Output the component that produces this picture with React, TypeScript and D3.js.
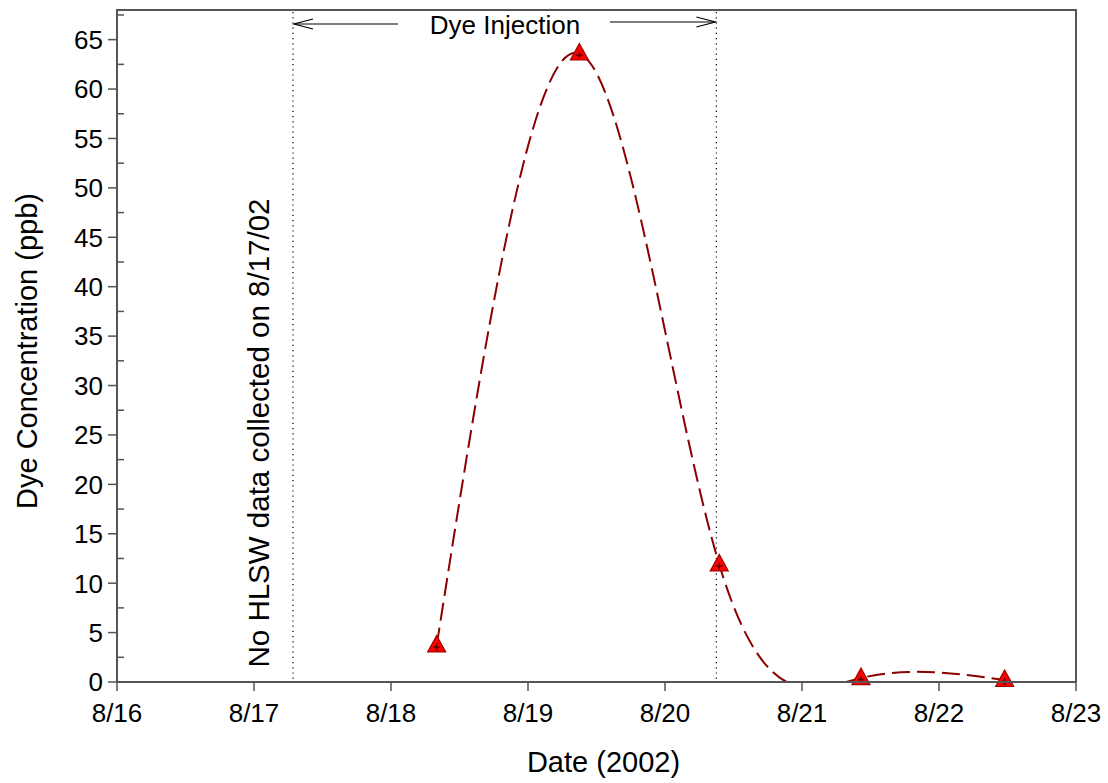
import React from "react";
import * as d3 from "d3";

// sample times (local) and dye concentration (ppb)
const sampleTimes = [
  new Date(2002, 7, 18, 8, 0),
  new Date(2002, 7, 19, 9, 0),
  new Date(2002, 7, 20, 9, 30),
  new Date(2002, 7, 21, 10, 20),
  new Date(2002, 7, 22, 11, 30),
];
const concentrations = [3.7, 63.6, 11.9, 0.4, 0.2];

const injectionStart = new Date(2002, 7, 17, 6, 50);
const injectionEnd = new Date(2002, 7, 20, 9, 0);

const xTicks = d3.range(16, 24).map((d) => new Date(2002, 7, d));
const yMajor = d3.range(0, 70, 5);
const yMinor = d3.range(2.5, 70, 5);

function App() {
  const width = 1108;
  const height = 783;
  const left = 117;
  const right = 1076;
  const top = 10;
  const bottom = 682;

  const x = d3
    .scaleTime()
    .domain([new Date(2002, 7, 16), new Date(2002, 7, 23)])
    .range([left, right]);
  const y = d3.scaleLinear().domain([0, 68]).range([bottom, top]);

  const pts = sampleTimes.map((t, i) => ({ t, v: concentrations[i] }));
  const line = d3
    .line<{ t: Date; v: number }>()
    .x((d) => x(d.t))
    .y((d) => y(d.v))
    .curve(d3.curveNatural);

  const fmt = d3.timeFormat("%-m/%-d");
  const axisColor = "#555";
  const font = "'Liberation Sans', Arial, sans-serif";

  const tri = (cx: number, cy: number) =>
    `M${cx},${cy - 10} L${cx + 9},${cy + 6.5} L${cx - 9},${cy + 6.5} Z`;

  return (
    <svg
      width={width}
      height={height}
      style={{ position: "absolute", left: 0, top: 0, background: "#fff" }}
      fontFamily={font}
    >
      <defs>
        <clipPath id="plot">
          <rect x={left} y={top} width={right - left} height={bottom - top} />
        </clipPath>
      </defs>

      {/* injection window */}
      {[injectionStart, injectionEnd].map((d, i) => (
        <line
          key={i}
          x1={x(d)}
          x2={x(d)}
          y1={top + 2}
          y2={bottom}
          stroke="#000"
          strokeWidth={1.2}
          strokeDasharray="1.2,4"
        />
      ))}
      <text x={505} y={34} fontSize={26} textAnchor="middle" fill="#000">
        Dye Injection
      </text>
      <g stroke="#000" strokeWidth={1.2} fill="none">
        <line x1={x(injectionStart) + 1} x2={398} y1={24} y2={24} />
        <polyline
          points={`${x(injectionStart) + 20},${19} ${x(injectionStart) + 1},${24} ${x(injectionStart) + 20},${29}`}
        />
        <line x1={610} x2={x(injectionEnd) - 1} y1={22} y2={22} />
        <polyline
          points={`${x(injectionEnd) - 20},${17} ${x(injectionEnd) - 1},${22} ${x(injectionEnd) - 20},${27}`}
        />
      </g>

      <text
        transform={`translate(269, 433) rotate(-90)`}
        fontSize={29.5}
        textAnchor="middle"
        fill="#000"
      >
        No HLSW data collected on 8/17/02
      </text>

      {/* curve */}
      <path
        d={line(pts) ?? ""}
        fill="none"
        stroke="#8b0000"
        strokeWidth={2}
        strokeDasharray="18,7"
        clipPath="url(#plot)"
      />

      {/* markers */}
      {pts.map((p, i) => {
        const cx = x(p.t);
        const cy = y(p.v);
        return (
          <g key={i}>
            <path d={tri(cx, cy)} fill="#ff0000" stroke="#a00000" strokeWidth={1.2} />
            <path
              d={`M${cx - 3.5},${cy + 1.5} H${cx + 3.5} M${cx},${cy - 2} V${cy + 5}`}
              stroke="#600000"
              strokeWidth={1.5}
            />
          </g>
        );
      })}

      {/* frame */}
      <rect
        x={left}
        y={top}
        width={right - left}
        height={bottom - top}
        fill="none"
        stroke={axisColor}
        strokeWidth={2}
      />

      {/* y ticks */}
      {yMajor.map((v) => (
        <g key={v}>
          <line x1={left - 9} x2={left} y1={y(v)} y2={y(v)} stroke={axisColor} strokeWidth={1.5} />
          <text
            x={left - 14}
            y={y(v)}
            dy="0.36em"
            textAnchor="end"
            fontSize={26}
            fill="#000"
          >
            {v}
          </text>
        </g>
      ))}
      {yMinor.map((v) => (
        <line key={v} x1={left} x2={left + 7} y1={y(v)} y2={y(v)} stroke={axisColor} strokeWidth={1.5} />
      ))}

      {/* x ticks */}
      {xTicks.map((d, i) => (
        <g key={i}>
          <line x1={x(d)} x2={x(d)} y1={bottom} y2={bottom + 9} stroke={axisColor} strokeWidth={1.5} />
          <text x={x(d)} y={bottom + 40} textAnchor="middle" fontSize={26} fill="#000">
            {fmt(d)}
          </text>
        </g>
      ))}

      <text
        x={(left + right) / 2 + 7}
        y={772}
        textAnchor="middle"
        fontSize={29}
        fill="#000"
      >
        Date (2002)
      </text>
      <text
        transform={`translate(37, 351) rotate(-90)`}
        textAnchor="middle"
        fontSize={29}
        fill="#000"
      >
        Dye Concentration (ppb)
      </text>
    </svg>
  );
}

export default App;
